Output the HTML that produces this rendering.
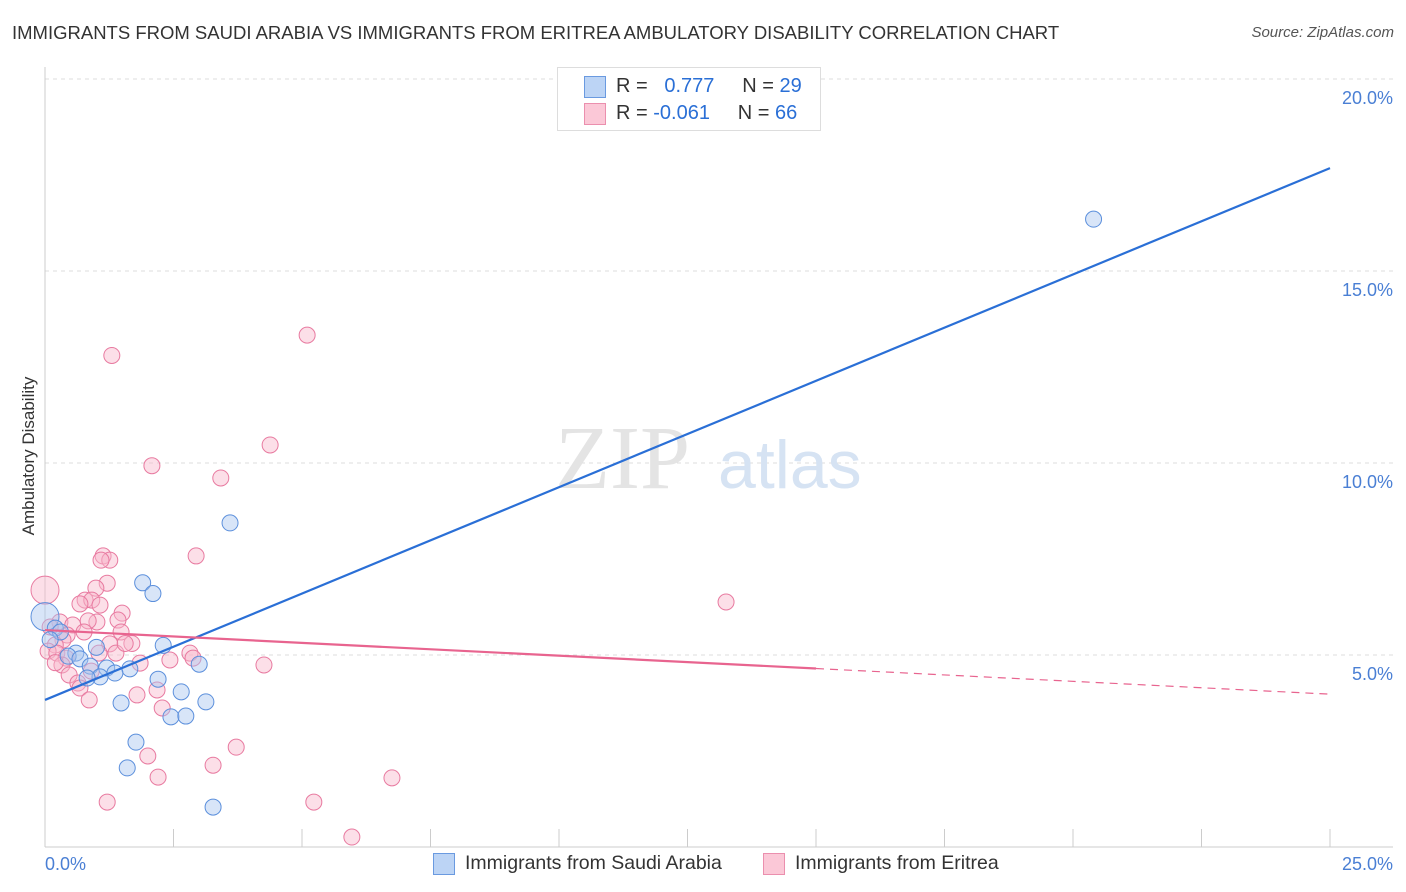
<!DOCTYPE html>
<html><head><meta charset="utf-8"><style>
body{margin:0;background:#fff;font-family:"Liberation Sans",sans-serif;}
#wrap{position:relative;width:1406px;height:892px;overflow:hidden;}
.t{position:absolute;white-space:nowrap;}
</style></head><body>
<div id="wrap">
<div class="t" style="left:12px;top:22px;font-size:18.5px;color:#333;">IMMIGRANTS FROM SAUDI ARABIA VS IMMIGRANTS FROM ERITREA AMBULATORY DISABILITY CORRELATION CHART</div>
<div class="t" style="right:12px;top:24px;font-size:15px;color:#555;font-style:italic;">Source: ZipAtlas.com</div>
<svg id="svg" width="1406" height="892" style="position:absolute;left:0;top:0"></svg>
</div>
<script>
const xTicks=[0,2.5,5,7.5,10,12.5,15,17.5,20,22.5,25];
const yTickVals=[5,10,15,20];
const yTickLabels=["5.0%","10.0%","15.0%","20.0%"];
const saudiX=[0,20.4,3.6,1.9,2.1,2.3,1.0,0.6,0.45,0.68,3.0,0.88,1.2,1.65,2.2,1.36,1.07,0.82,2.65,1.48,3.13,2.45,2.74,1.77,1.6,3.27,0.2,0.3,0.1];
const saudiY=[6.0,16.35,8.44,6.88,6.6,5.25,5.2,5.05,4.97,4.9,4.76,4.71,4.66,4.64,4.37,4.53,4.43,4.4,4.04,3.75,3.78,3.39,3.41,2.73,2.06,1.04,5.7,5.6,5.4];
const eritreaX=[0,1.3,5.1,4.38,2.08,3.42,1.13,1.26,2.94,1.09,1.21,0.99,0.78,0.91,0.68,1.5,1.42,1.01,0.84,0.29,0.54,0.1,1.48,0.43,0.35,1.69,0.2,1.26,0.06,0.23,1.05,0.41,2.43,2.82,1.85,0.33,4.26,0.9,0.47,0.64,0.68,1.79,2.18,0.86,2.28,3.72,2.0,3.27,2.2,6.75,1.21,5.23,5.97,13.25,2.88,1.38,0.76,1.07,1.56,0.2];
const eritreaY=[6.69,12.8,13.33,10.47,9.93,9.61,7.58,7.47,7.58,7.47,6.87,6.74,6.43,6.43,6.33,6.09,5.91,5.86,5.89,5.86,5.78,5.73,5.6,5.52,5.39,5.3,5.26,5.29,5.1,5.05,5.05,4.92,4.87,5.05,4.79,4.74,4.74,4.58,4.48,4.27,4.14,3.96,4.09,3.83,3.62,2.6,2.37,2.13,1.82,1.8,1.17,1.17,0.26,6.38,4.92,5.05,5.6,6.3,5.3,4.8];
const saudiTrend=[3.83,17.68];
const eritreaTrend=[5.65,3.98];
const solidEnd=15;
const X=v=>45+v*51.4, Y=v=>847-v*38.4;
const svgEl=document.getElementById('svg');const NS='http://www.w3.org/2000/svg';
function mk(t,a){const e=document.createElementNS(NS,t);for(const k in a)e.setAttribute(k,a[k]);svgEl.appendChild(e);return e;}
yTickVals.forEach((v,i)=>{
const g=mk('line',{x1:45,x2:1393,y1:Y(v),y2:Y(v),stroke:'#ddd','stroke-dasharray':'4,4'});


const t=mk('text',{x:1393,y:Y(v)+25,'text-anchor':'end','font-size':18,fill:'#4a7fd4'});t.textContent=yTickLabels[i];


});
const ya=mk('line',{x1:45,x2:45,y1:67,y2:847,stroke:'#ccc'});


const xa=mk('line',{x1:45,x2:1393,y1:847,y2:847,stroke:'#ccc'});


xTicks.forEach(v=>{const l=mk('line',{x1:X(v),x2:X(v),y1:829,y2:847,stroke:'#ccc'});

});
[['0.0%',45,'start'],['25.0%',1393,'end']].forEach(a=>{const t=mk('text',{x:a[1],y:870,'text-anchor':a[2],'font-size':18,fill:'#4a7fd4'});t.textContent=a[0];

});
const yt=mk('text',{x:34,y:456,transform:'rotate(-90 34 456)','text-anchor':'middle','font-size':17,fill:'#333'});yt.textContent='Ambulatory Disability';


const wm=mk('text',{x:555,y:488,'font-size':90,fill:'#e4e4e4','font-family':'Liberation Serif'});wm.textContent='ZIP';


const wm2=mk('text',{x:718,y:488,'font-size':68,fill:'#d6e3f3'});wm2.textContent='atlas';


function pts(xs,ys,fill,stroke,name){xs.forEach((x,i)=>{const c=mk('circle',{cx:X(x),cy:Y(ys[i]),r:(i==0&&x==0)?14:8,fill:fill,'fill-opacity':0.45,stroke:stroke,'stroke-width':1});

});}
pts(eritreaX,eritreaY,'#f9b8cb','#e87aa0','eritrea-point');
pts(saudiX,saudiY,'#a9c6f0','#5b8fdc','saudi-point');
const bl=mk('line',{x1:X(0),y1:Y(saudiTrend[0]),x2:X(25),y2:Y(saudiTrend[1]),stroke:'#2a6fd6','stroke-width':2.2});


const pe=v=>eritreaTrend[0]+(eritreaTrend[1]-eritreaTrend[0])*v/25;
const pl=mk('line',{x1:X(0),y1:Y(pe(0)),x2:X(solidEnd),y2:Y(pe(solidEnd)),stroke:'#e8648f','stroke-width':2.2});


const pd=mk('line',{x1:X(solidEnd),y1:Y(pe(solidEnd)),x2:X(25),y2:Y(pe(25)),stroke:'#e8648f','stroke-width':1.2,'stroke-dasharray':'8,6'});


</script>
<div class="t" style="left:557px;top:67px;width:262px;height:62px;border:1px solid #ddd;background:#fff;font-size:20px;">
 <div style="position:absolute;left:26px;top:8px;width:20px;height:20px;background:#bcd4f5;border:1px solid #6a9ae0;"></div>
 <div class="t" style="left:58px;top:7px;color:#333;">R = &nbsp;&nbsp;<span style="color:#2a6fd6">0.777</span>&nbsp;&nbsp;&nbsp;&nbsp; N = <span style="color:#2a6fd6">29</span></div>
 <div style="position:absolute;left:26px;top:35px;width:20px;height:20px;background:#fbc8d7;border:1px solid #eb8fae;"></div>
 <div class="t" style="left:58px;top:34px;color:#333;">R = <span style="color:#2a6fd6">-0.061</span>&nbsp;&nbsp;&nbsp;&nbsp; N = <span style="color:#2a6fd6">66</span></div>
</div>
<div style="position:absolute;left:433px;top:853px;width:20px;height:20px;background:#bcd4f5;border:1px solid #6a9ae0;"></div>
<div class="t" style="left:465px;top:852px;font-size:19.5px;color:#333;">Immigrants from Saudi Arabia</div>
<div style="position:absolute;left:763px;top:853px;width:20px;height:20px;background:#fbc8d7;border:1px solid #eb8fae;"></div>
<div class="t" style="left:795px;top:852px;font-size:19.5px;color:#333;">Immigrants from Eritrea</div>
</body></html>
